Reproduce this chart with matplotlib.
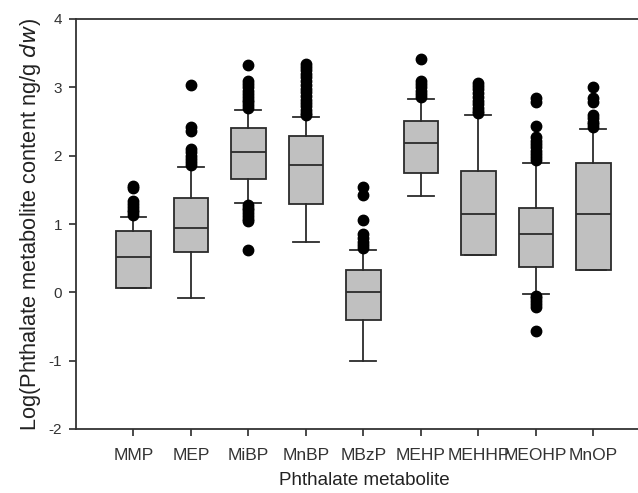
import matplotlib
matplotlib.use("Agg")
import matplotlib.pyplot as plt

plt.rcParams['font.family'] = ['Liberation Sans', 'DejaVu Sans']
plt.rcParams['axes.unicode_minus'] = False

categories = ["MMP", "MEP", "MiBP", "MnBP", "MBzP", "MEHP", "MEHHP", "MEOHP", "MnOP"]
q1 = [0.06, 0.59, 1.66, 1.29, -0.41, 1.74, 0.54, 0.37, 0.32]
median = [0.52, 0.94, 2.05, 1.87, 0.00, 2.18, 1.14, 0.86, 1.15]
q3 = [0.90, 1.38, 2.41, 2.29, 0.33, 2.51, 1.77, 1.24, 1.89]
whislo = [0.06, -0.09, 1.31, 0.73, -1.00, 1.41, 0.54, -0.03, 0.32]
whishi = [1.10, 1.84, 2.67, 2.56, 0.62, 2.83, 2.59, 1.89, 2.39]
outliers = [
    [1.13, 1.17, 1.21, 1.25, 1.29, 1.33, 1.52, 1.56],
    [1.87, 1.91, 1.95, 2.00, 2.05, 2.10, 2.36, 2.42, 3.04],
    [2.70, 2.74, 2.78, 2.82, 2.86, 2.90, 2.95, 3.00, 3.05, 3.10, 3.32,
     1.28, 1.24, 1.20, 1.16, 1.12, 1.08, 1.04, 0.62],
    [2.59, 2.63, 2.67, 2.72, 2.77, 2.82, 2.88, 2.93, 2.98, 3.04, 3.10,
     3.15, 3.20, 3.25, 3.30, 3.34],
    [0.65, 0.69, 0.74, 0.80, 0.85, 1.06, 1.42, 1.54],
    [2.86, 2.90, 2.95, 3.00, 3.05, 3.10, 3.41],
    [2.62, 2.66, 2.70, 2.75, 2.80, 2.86, 2.92, 2.97, 3.02, 3.06],
    [1.94, 1.98, 2.02, 2.07, 2.12, 2.17, 2.22, 2.27, 2.43, 2.79, 2.84,
     -0.05, -0.09, -0.13, -0.17, -0.21, -0.57],
    [2.42, 2.46, 2.50, 2.55, 2.60, 2.79, 2.85, 3.00],
]

stats = []
for i, name in enumerate(categories):
    stats.append(dict(label=name, q1=q1[i], med=median[i], q3=q3[i],
                      whislo=whislo[i], whishi=whishi[i], fliers=outliers[i]))

fig = plt.figure(figsize=(6.38, 4.93), dpi=100)
ax = fig.add_axes([76/638, 64/493, 1.02 - 76/638, (429-19)/493])

edge = "#2b2b2b"
ax.bxp(stats, positions=range(1, 10), widths=0.6, patch_artist=True,
       boxprops=dict(facecolor="#c0c0c0", edgecolor=edge, linewidth=1.3),
       medianprops=dict(color=edge, linewidth=1.3),
       whiskerprops=dict(color=edge, linewidth=1.3),
       capprops=dict(color=edge, linewidth=1.3),
       capwidths=0.45,
       flierprops=dict(marker='o', markerfacecolor='black', markeredgecolor='black',
                       markersize=7.5, linestyle='none'))

ax.set_xlim(0, 10.0)
ax.set_ylim(-2, 4)
ax.set_yticks([-2, -1, 0, 1, 2, 3, 4])
ax.set_xticks(range(1, 10))
ax.set_xticklabels(categories)
ax.tick_params(axis='both', direction='out', length=5, width=1.2, color=edge,
               labelcolor="#333333")
ax.tick_params(axis='x', pad=9, labelsize=12.5)
ax.tick_params(axis='y', pad=5, labelsize=11)
for s in ax.spines.values():
    s.set_linewidth(1.3)
    s.set_color("#333333")
ax.spines['right'].set_visible(False)

ax.set_xlabel("Phthalate metabolite", fontsize=13.5, color="#222222")
ax.xaxis.set_label_coords(0.501, -0.105)
ax.set_ylabel("Log(Phthalate metabolite content ng/g $\\mathit{dw}$)", fontsize=15.7,
              color="#222222")
ax.yaxis.set_label_coords(-0.058, 0.5)

fig.savefig("out.png", dpi=100)
